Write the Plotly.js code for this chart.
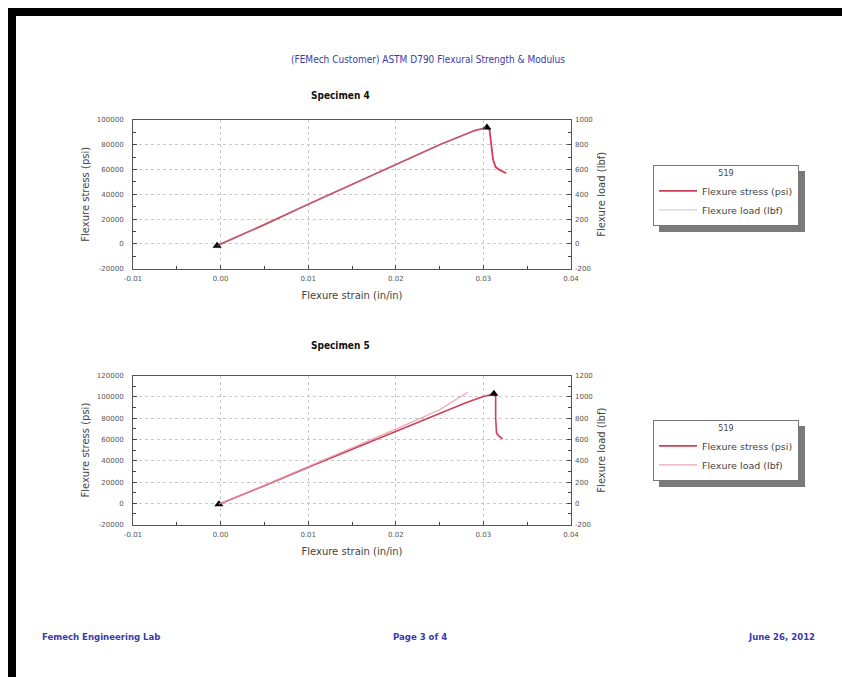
<!DOCTYPE html>
<html>
<head>
<meta charset="utf-8">
<script src="https://cdn.plot.ly/plotly-3.0.1.min.js"></script>
<style>
  html, body { margin: 0; padding: 0; background: #ffffff; }
  #chart { width: 842px; height: 677px; }
</style>
</head>
<body>
<div id="chart"></div>
<script>
// ---------- data ----------
const pageTitle = "(FEMech Customer) ASTM D790 Flexural Strength & Modulus";
const specimenTitles = ["Specimen 4", "Specimen 5"];
const legendTitle = "519";
const seriesNames = ["Flexure stress (psi)", "Flexure load (lbf)"];
const footerLeft = "Femech Engineering Lab";
const footerMid = "Page 3 of 4";
const footerRight = "June 26, 2012";

// Specimen 4
const s4Strain = [-0.0004, 0.005, 0.010, 0.015, 0.020, 0.025, 0.0290, 0.0304, 0.0307, 0.0309, 0.0311, 0.0314, 0.0319, 0.0326];
const s4Stress = [-1500, 15500, 32000, 48000, 64000, 80000, 91500, 94000, 92000, 80000, 68000, 62000, 59500, 57000];
const s4LoadStrain = [-0.0004, 0.005, 0.010, 0.015, 0.020, 0.025, 0.0290, 0.0303];
const s4Load = [-15, 155, 319, 478, 638, 797, 912, 938];
const s4MarkStrain = [-0.0004, 0.0304];
const s4MarkStress = [-1500, 94000];

// Specimen 5
const s5Strain = [-0.0002, 0.005, 0.010, 0.015, 0.020, 0.025, 0.028, 0.030, 0.0312, 0.0314, 0.0314, 0.0315, 0.0318, 0.0322];
const s5Stress = [-800, 16500, 34000, 51000, 68000, 85000, 94500, 100500, 103000, 101000, 80000, 66000, 63000, 60500];
const s5LoadStrain = [-0.0002, 0.005, 0.010, 0.015, 0.020, 0.025, 0.0282];
const s5Load = [-8, 168, 345, 520, 698, 880, 1045];
const s5MarkStrain = [-0.0002, 0.0312];
const s5MarkStress = [-800, 103000];

// tick labels
const xTickVals = [-0.01, 0.00, 0.01, 0.02, 0.03, 0.04];
const xTickText = ["-0.01", "0.00", "0.01", "0.02", "0.03", "0.04"];
const y1TickVals = [-20000, 0, 20000, 40000, 60000, 80000, 100000];
const y1TickText = ["-20000", "0", "20000", "40000", "60000", "80000", "100000"];
const y2TickVals = [-200, 0, 200, 400, 600, 800, 1000];
const y2TickText = ["-200", "0", "200", "400", "600", "800", "1000"];
const y3TickVals = [-20000, 0, 20000, 40000, 60000, 80000, 100000, 120000];
const y3TickText = ["-20000", "0", "20000", "40000", "60000", "80000", "100000", "120000"];
const y4TickVals = [-200, 0, 200, 400, 600, 800, 1000, 1200];
const y4TickText = ["-200", "0", "200", "400", "600", "800", "1000", "1200"];

// ---------- layout helpers ----------
const W = 842, H = 677;
const px = v => v / W;
const py = v => 1 - v / H;

const stressColor = "#cf3f55";
const load4Color = "rgba(150,150,150,0.55)";
const load5Color = "rgba(230,150,170,0.85)";
const baseFam = "DejaVu Sans, Verdana, sans-serif";
const condFam = "DejaVu Sans Condensed, Liberation Sans Narrow, Liberation Sans, sans-serif";
const tickFont = { family: baseFam, size: 7, color: "#555" };
const axTitleFont = { family: baseFam, size: 10, color: "#444" };
const blue = "#3a3aa8";

function xAxis(dom, anchor) {
  return {
    domain: dom, anchor: anchor, range: [-0.01, 0.04],
    tickvals: xTickVals, ticktext: xTickText, tickfont: tickFont, ticklabelstandoff: 3,
    ticks: "inside", ticklen: 4, tickcolor: "#444",
    minor: { dtick: 0.005, ticks: "inside", ticklen: 3, tickcolor: "#444", showgrid: false },
    showgrid: true, gridcolor: "#c8c8c8", griddash: "dot", gridwidth: 1,
    zeroline: false, showline: true, linecolor: "#555", linewidth: 1, mirror: true,
    title: { text: "Flexure strain (in/in)", font: axTitleFont, standoff: 9 }
  };
}
function yLeft(dom, anchor, range, vals, text) {
  return {
    domain: dom, anchor: anchor, range: range,
    tickvals: vals, ticktext: text, tickfont: tickFont, ticklabelstandoff: 7,
    ticks: "inside", ticklen: 4, tickcolor: "#444",
    minor: { dtick: 10000, ticks: "inside", ticklen: 3, tickcolor: "#444", showgrid: false },
    showgrid: true, gridcolor: "#c8c8c8", griddash: "dot", gridwidth: 1,
    zeroline: false, showline: true, linecolor: "#555", linewidth: 1, mirror: true,
    title: { text: "Flexure stress (psi)", font: axTitleFont, standoff: 5 }
  };
}
function yRight(overlay, anchor, range, vals, text) {
  return {
    overlaying: overlay, anchor: anchor, side: "right", range: range,
    tickvals: vals, ticktext: text, tickfont: tickFont, ticklabelstandoff: 3,
    ticks: "inside", ticklen: 4, tickcolor: "#444",
    minor: { dtick: 100, ticks: "inside", ticklen: 3, tickcolor: "#444", showgrid: false },
    showgrid: false, zeroline: false, showline: false,
    title: { text: "Flexure load (lbf)", font: axTitleFont, standoff: 6 }
  };
}

const xDom = [px(133), px(571)];
const y1Dom = [py(268.6), py(120)];
const y2Dom = [py(524.6), py(375.7)];

const traces = [
  { x: s4Strain, y: s4Stress, xaxis: "x", yaxis: "y", type: "scatter", mode: "lines",
    name: seriesNames[0], line: { color: stressColor, width: 1.8 }, legend: "legend" },
  { x: s4LoadStrain, y: s4Load, xaxis: "x", yaxis: "y2", type: "scatter", mode: "lines",
    name: seriesNames[1], line: { color: load4Color, width: 1 }, legend: "legend" },
  { x: s4MarkStrain, y: s4MarkStress, xaxis: "x", yaxis: "y", type: "scatter", mode: "markers",
    marker: { symbol: "triangle-up", size: 8, color: "#000" }, showlegend: false, hoverinfo: "skip" },

  { x: s5Strain, y: s5Stress, xaxis: "x2", yaxis: "y3", type: "scatter", mode: "lines",
    name: seriesNames[0], line: { color: stressColor, width: 1.6 }, legend: "legend2" },
  { x: s5LoadStrain, y: s5Load, xaxis: "x2", yaxis: "y4", type: "scatter", mode: "lines",
    name: seriesNames[1], line: { color: load5Color, width: 1.3 }, legend: "legend2" },
  { x: s5MarkStrain, y: s5MarkStress, xaxis: "x2", yaxis: "y3", type: "scatter", mode: "markers",
    marker: { symbol: "triangle-up", size: 8, color: "#000" }, showlegend: false, hoverinfo: "skip" }
];

const legendStyle = (top) => ({
  x: px(653), y: py(top), xanchor: "left", yanchor: "top",
  bgcolor: "#ffffff", bordercolor: "#777", borderwidth: 1,
  font: { family: baseFam, size: 9.5, color: "#444" },
  title: { text: legendTitle, side: "top center", font: { family: baseFam, size: 8, color: "#444" } },
  tracegroupgap: 0, itemwidth: 38, traceorder: "normal"
});

const layout = {
  width: W, height: H,
  margin: { l: 0, r: 0, t: 0, b: 0 },
  paper_bgcolor: "#ffffff", plot_bgcolor: "#ffffff",
  showlegend: true,
  xaxis: xAxis(xDom, "y"),
  yaxis: yLeft(y1Dom, "x", [-20000, 100000], y1TickVals, y1TickText),
  yaxis2: yRight("y", "x", [-200, 1000], y2TickVals, y2TickText),
  xaxis2: xAxis(xDom, "y3"),
  yaxis3: yLeft(y2Dom, "x2", [-20000, 120000], y3TickVals, y3TickText),
  yaxis4: yRight("y3", "x2", [-200, 1200], y4TickVals, y4TickText),
  legend: legendStyle(165),
  legend2: legendStyle(420),
  shapes: [
    // page frame (black bars)
    { type: "rect", xref: "paper", yref: "paper", x0: px(8), x1: px(16), y0: 0, y1: py(8), fillcolor: "#000", line: { width: 0 }, layer: "above" },
    { type: "rect", xref: "paper", yref: "paper", x0: px(8), x1: 1, y0: py(16), y1: py(8), fillcolor: "#000", line: { width: 0 }, layer: "above" },
    // legend shadows
    { type: "rect", xref: "paper", yref: "paper", x0: px(659), x1: px(805), y0: py(232), y1: py(171), fillcolor: "#7a7a7a", line: { width: 0 }, layer: "below" },
    { type: "rect", xref: "paper", yref: "paper", x0: px(659), x1: px(805), y0: py(487), y1: py(426), fillcolor: "#7a7a7a", line: { width: 0 }, layer: "below" }
  ],
  annotations: [
    { text: pageTitle, xref: "paper", yref: "paper", x: px(428), y: py(52), showarrow: false,
      font: { family: condFam, size: 10, color: blue } },
    { text: "<b>" + specimenTitles[0] + "</b>", xref: "paper", yref: "paper", x: px(340), y: py(88), showarrow: false,
      font: { family: condFam, size: 10, color: "#111" } },
    { text: "<b>" + specimenTitles[1] + "</b>", xref: "paper", yref: "paper", x: px(340), y: py(345), showarrow: false,
      font: { family: condFam, size: 10, color: "#111" } },
    { text: "<b>" + footerLeft + "</b>", xref: "paper", yref: "paper", x: px(40), y: py(644), xanchor: "left", showarrow: false,
      font: { family: condFam, size: 9.5, color: blue } },
    { text: "<b>" + footerMid + "</b>", xref: "paper", yref: "paper", x: px(420), y: py(644), showarrow: false,
      font: { family: condFam, size: 9.5, color: blue } },
    { text: "<b>" + footerRight + "</b>", xref: "paper", yref: "paper", x: px(817), y: py(644), xanchor: "right", showarrow: false,
      font: { family: condFam, size: 9.5, color: blue } }
  ]
};

Plotly.newPlot("chart", traces, layout, { displayModeBar: false, staticPlot: true });
</script>
</body>
</html>
